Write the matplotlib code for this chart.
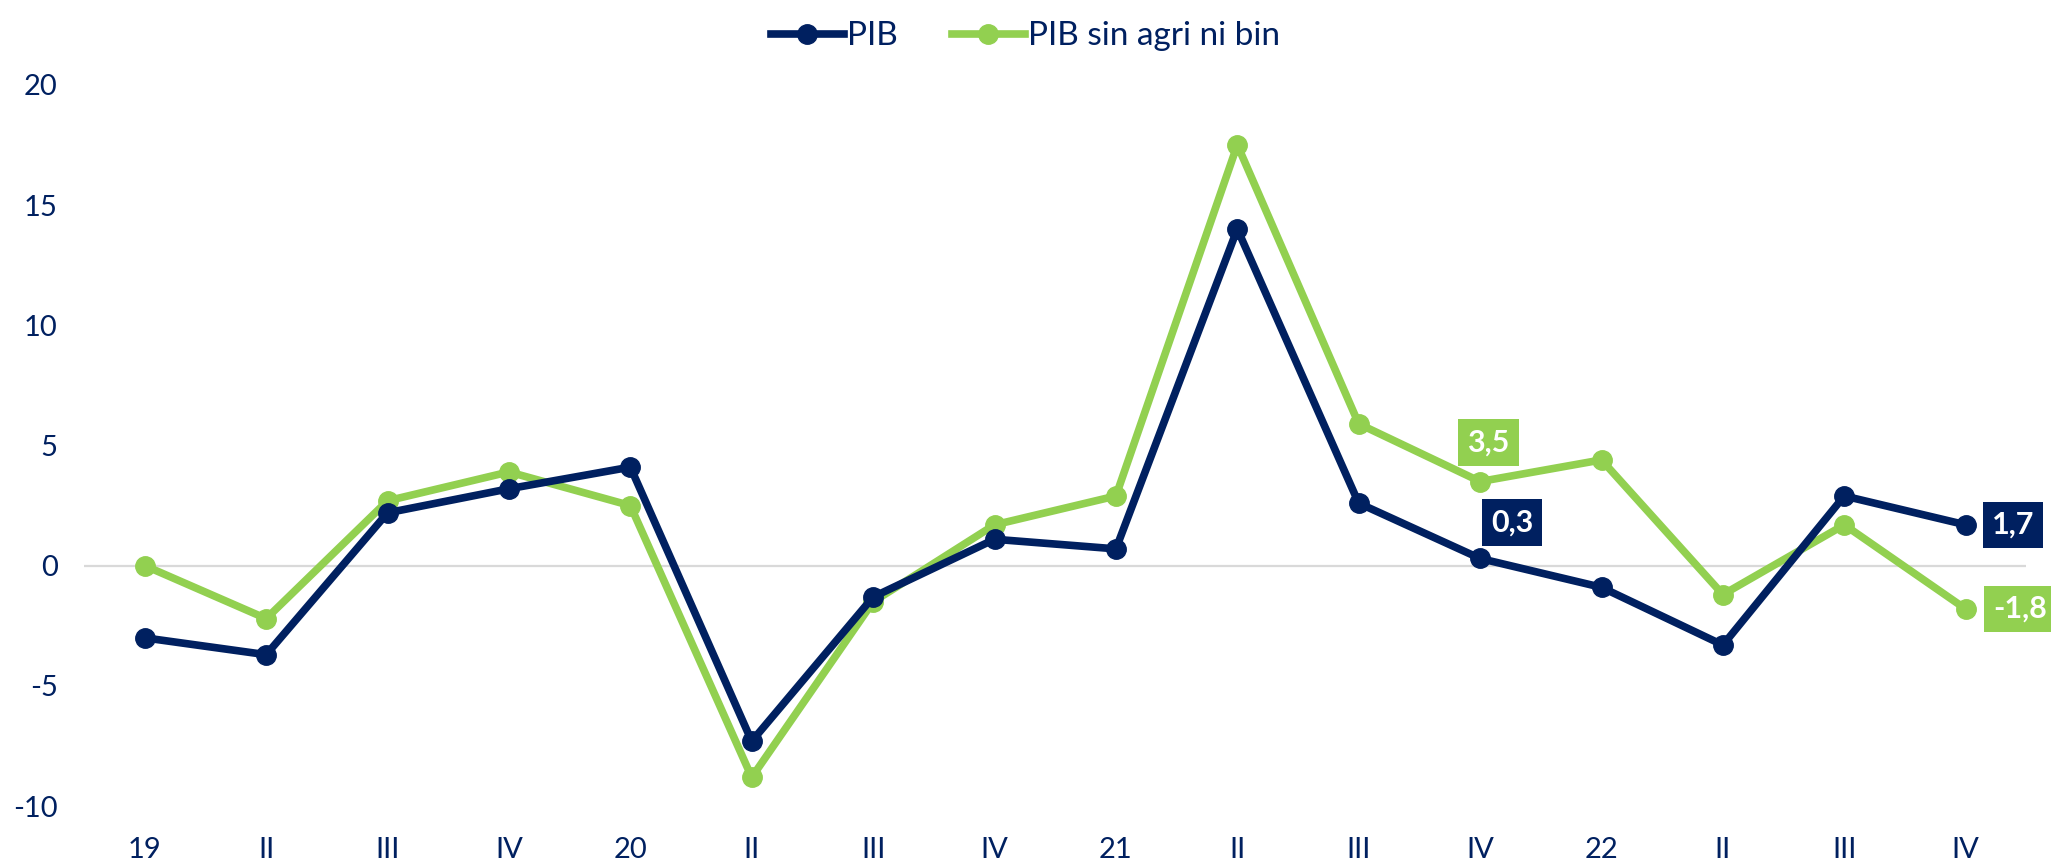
import matplotlib
matplotlib.use("Agg")
import matplotlib.pyplot as plt

plt.rcParams['font.family'] = ['Lato', 'DejaVu Sans']
plt.rcParams['axes.unicode_minus'] = False

# Datos
trimestres = ["19", "II", "III", "IV", "20", "II", "III", "IV",
              "21", "II", "III", "IV", "22", "II", "III", "IV"]
pib = [-3.0, -3.7, 2.2, 3.2, 4.1, -7.3, -1.3, 1.1,
       0.7, 14.0, 2.6, 0.3, -0.9, -3.3, 2.9, 1.7]
pib_sin_agri = [0.0, -2.2, 2.7, 3.9, 2.5, -8.8, -1.5, 1.7,
                2.9, 17.5, 5.9, 3.5, 4.4, -1.2, 1.7, -1.8]
yticks = [-10, -5, 0, 5, 10, 15, 20]

azul = "#002060"
verde = "#92D050"

fig = plt.figure(figsize=(20.51, 8.65), dpi=100)
ax = fig.add_axes([0.041, 0.068, 0.947, 0.834])

x = list(range(len(trimestres)))
ax.axhline(0, color="#D9D9D9", lw=1.6, zorder=1)
ax.plot(x, pib, color=azul, lw=5.5, marker="o", ms=14, label="PIB", zorder=3, clip_on=False)
ax.plot(x, pib_sin_agri, color=verde, lw=5.5, marker="o", ms=14,
        label="PIB sin agri ni bin", zorder=2, clip_on=False)

# Etiquetas de datos
def etiqueta(i, serie, color, dx, dy):
    ax.annotate(f"{serie[i]:.1f}".replace(".", ","), (x[i], serie[i]),
                xytext=(dx, dy), textcoords="offset points",
                ha="center", va="center", color="white", fontsize=22, fontweight="bold",
                bbox=dict(boxstyle="square,pad=0.3", fc=color, ec="none"), zorder=5)

etiqueta(11, pib_sin_agri, verde, 6, 28)
etiqueta(11, pib, azul, 23, 26)
etiqueta(15, pib, azul, 34, 0)
etiqueta(15, pib_sin_agri, verde, 39, 0)

ax.set_xlim(-0.5, 15.5)
ax.set_ylim(-10, 20)
ax.set_xticks(x)
ax.set_xticklabels(trimestres)
ax.set_yticks(yticks)
ax.tick_params(length=0, labelsize=21, labelcolor=azul)
ax.tick_params(axis="x", pad=22)
ax.tick_params(axis="y", pad=19)
for s in ax.spines.values():
    s.set_visible(False)

fig.legend(loc="upper center", bbox_to_anchor=(0.5, 1.01), ncol=2, frameon=False,
           fontsize=24, labelcolor=azul, handlelength=2.2, handletextpad=0.1,
           columnspacing=1.6)

fig.savefig("out.png", dpi=100)
